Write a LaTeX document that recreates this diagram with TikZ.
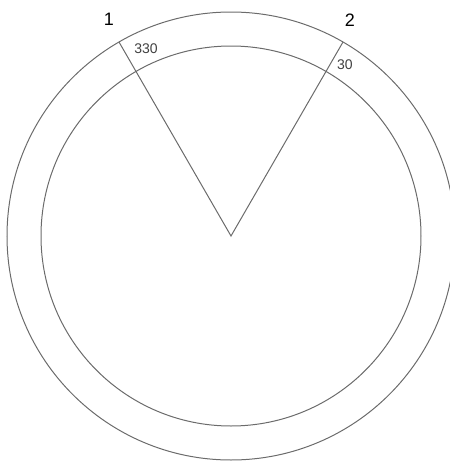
\documentclass[tikz,border=0pt]{standalone}
\usepackage{fontspec}
\setmainfont{Liberation Sans}
\begin{document}
\begin{tikzpicture}[x=1pt,y=-1pt,
  ring/.style={draw=black!58,line width=1pt},
  ray/.style={draw=black!58,line width=1pt},
  biglabel/.style={font=\fontsize{18}{18}\selectfont,inner sep=0pt},
  smalllabel/.style={font=\fontsize{14}{14}\selectfont,text=black!75,inner sep=0pt}]
\useasboundingbox (0,0) rectangle (450,464);
\coordinate (c) at (231,236);
\draw[ring] (c) circle[radius=224];
\draw[ring] (c) circle[radius=190];
\coordinate (p1) at (119,42);
\coordinate (p2) at (343,42);
\draw[ray] (p1) -- (c) -- (p2);
\node[biglabel] (l1) at (109,19) {1};
\node[biglabel] (l2) at (350,20) {2};
\node[smalllabel] (a1) at (146,49) {330};
\node[smalllabel] (a2) at (345,65) {30};
\end{tikzpicture}
\end{document}
